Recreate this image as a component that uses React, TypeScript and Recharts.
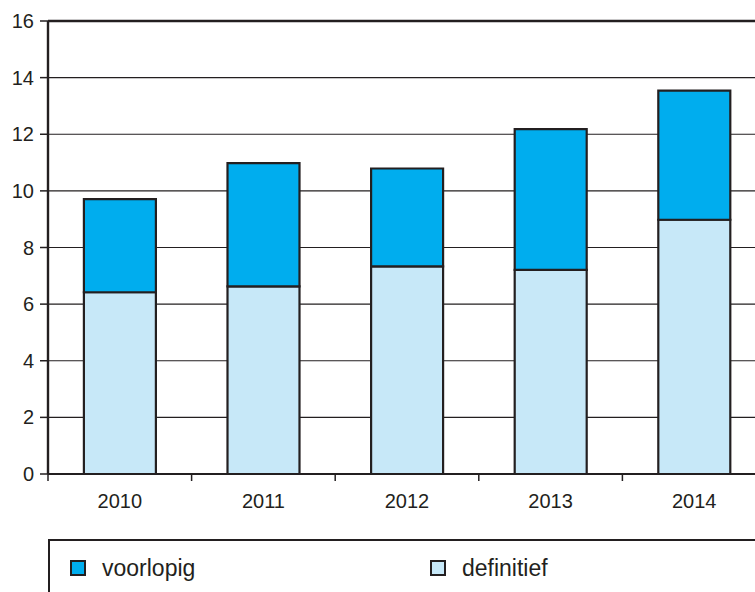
import React from "react";
import {
  BarChart,
  Bar,
  XAxis,
  YAxis,
  CartesianGrid,
  Legend,
  ReferenceLine,
} from "recharts";

const years = ["2010", "2011", "2012", "2013", "2014"];
const definitief = [6.42, 6.63, 7.33, 7.21, 8.98];
const voorlopig = [3.29, 4.35, 3.46, 4.97, 4.56];
const yTicks = [0, 2, 4, 6, 8, 10, 12, 14, 16];

const data = years.map((y, i) => ({
  year: y,
  definitief: definitief[i],
  voorlopig: voorlopig[i],
}));

const DARK = "#231f20";
const C_VOOR = "#00adee";
const C_DEF = "#c7e8f8";
const FONT = "'Liberation Sans', Arial, Helvetica, sans-serif";
const TICK_LEN = 7;
const TICK_MARGIN = 13;

const legendItems = [
  { name: "voorlopig", color: C_VOOR },
  { name: "definitief", color: C_DEF },
];

const XTick = (props: any) => {
  const { x, y, payload } = props;
  const half =
    payload && typeof payload.offset === "number" && payload.offset > 0
      ? payload.offset
      : props.width / props.visibleTicksCount / 2;
  const axisY = y - TICK_MARGIN - TICK_LEN;
  return (
    <g>
      <line
        x1={x - half}
        x2={x - half}
        y1={axisY}
        y2={axisY + TICK_LEN}
        stroke={DARK}
        strokeWidth={1.5}
      />
      <text
        x={x}
        y={y}
        dy="0.71em"
        textAnchor="middle"
        fontSize={20}
        fontFamily={FONT}
        fill={DARK}
      >
        {payload.value}
      </text>
    </g>
  );
};

const LegendBox = () => (
  <div
    style={{
      boxSizing: "border-box",
      width: 740,
      height: 69,
      border: `2px solid ${DARK}`,
      borderRight: "none",
      borderBottom: "none",
      position: "relative",
      fontFamily: FONT,
      fontSize: 23,
      color: DARK,
    }}
  >
    {legendItems.map((it, i) => (
      <React.Fragment key={it.name}>
        <span
          style={{
            position: "absolute",
            left: 20 + i * 360,
            top: 19,
            width: 16,
            height: 16,
            boxSizing: "border-box",
            border: `2px solid ${DARK}`,
            background: it.color,
          }}
        />
        <span
          style={{
            position: "absolute",
            left: 52 + i * 360,
            top: 16,
            lineHeight: "23px",
            whiteSpace: "nowrap",
          }}
        >
          {it.name}
        </span>
      </React.Fragment>
    ))}
  </div>
);

export default function App() {
  return (
    <div style={{ width: 770, height: 600 }}>
      <style>
        {
          "html{overflow:hidden;} body{overflow:visible !important;margin-right:0 !important;} #root{overflow:visible !important;}"
        }
      </style>
      <BarChart
        width={770}
        height={600}
        data={data}
        margin={{ top: 13, right: 12, bottom: 0, left: 0 }}
        barCategoryGap="25%"
        style={{ overflow: "visible", maxWidth: "none" }}
      >
        <CartesianGrid
          vertical={false}
          stroke={DARK}
          strokeWidth={1.2}
          strokeOpacity={1}
        />
        <XAxis
          dataKey="year"
          height={65}
          axisLine={{ stroke: DARK, strokeWidth: 2 }}
          tickLine={false}
          tickSize={TICK_LEN}
          tickMargin={TICK_MARGIN}
          tick={<XTick />}
          interval={0}
        />
        <YAxis
          width={40}
          domain={[0, 16]}
          ticks={yTicks}
          interval={0}
          axisLine={{ stroke: DARK, strokeWidth: 2.4 }}
          tickLine={{ stroke: DARK, strokeWidth: 1.5 }}
          tickSize={8}
          tickMargin={6}
          tick={{ fontSize: 20, fontFamily: FONT, fill: DARK }}
        />
        <ReferenceLine y={16} stroke={DARK} strokeWidth={2.4} />
        <Legend
          verticalAlign="bottom"
          align="left"
          content={<LegendBox />}
          wrapperStyle={{ left: 40, bottom: 0, width: 740, height: 69 }}
        />
        <Bar
          dataKey="definitief"
          stackId="a"
          fill={C_DEF}
          stroke={DARK}
          strokeWidth={2.2}
          isAnimationActive={false}
        />
        <Bar
          dataKey="voorlopig"
          stackId="a"
          fill={C_VOOR}
          stroke={DARK}
          strokeWidth={2.2}
          isAnimationActive={false}
        />
      </BarChart>
    </div>
  );
}
